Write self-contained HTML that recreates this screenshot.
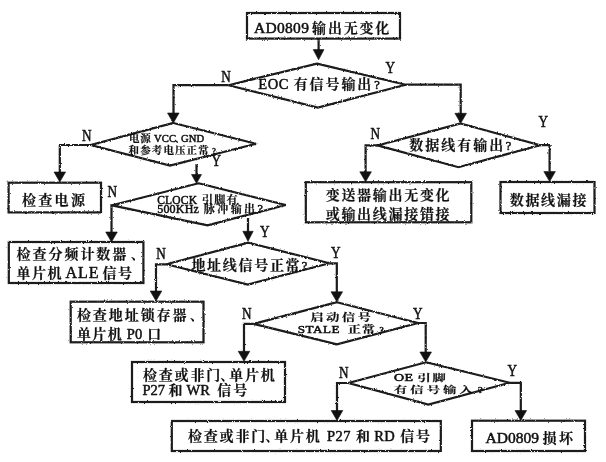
<!DOCTYPE html>
<html lang="zh-CN">
<head>
<meta charset="utf-8">
<title>AD0809 输出无变化 故障检查流程</title>
<style>
html,body{margin:0;padding:0;background:#fff;}
body{width:606px;height:462px;overflow:hidden;}
svg{display:block;}
svg text{font-family:"Liberation Serif","Noto Serif CJK SC",serif;fill:#111;}
.ln *{fill:none;stroke:#1a1a1a;stroke-width:2.2;stroke-linejoin:miter;}
.ar *{fill:#111;stroke:#111;stroke-width:0.6;}
svg text .la{stroke:#111;stroke-width:0.5;}
svg text.lb,svg text .lb{stroke:#111;stroke-width:0.5;}
svg text .cj{stroke:#111;stroke-width:0.2;}
</style>
</head>
<body>
<svg width="606" height="462" viewBox="0 0 606 462">
<rect x="0" y="0" width="606" height="462" fill="#fff"/>
<defs>
<filter id="rough" x="-2%" y="-2%" width="104%" height="104%">
<feTurbulence type="fractalNoise" baseFrequency="0.7" numOctaves="2" seed="7" result="n"/>
<feDisplacementMap in="SourceGraphic" in2="n" scale="2.4" xChannelSelector="R" yChannelSelector="G"/>
</filter>
</defs>
<g class="ln" filter="url(#rough)">
<rect x="247" y="13" width="153" height="25.6"/>
<rect x="8.6" y="182.7" width="92.4" height="29.7"/>
<rect x="8.8" y="242" width="134.6" height="41"/>
<rect x="70.7" y="301.7" width="132.8" height="40.6"/>
<rect x="132" y="362" width="153" height="40"/>
<rect x="171.8" y="421" width="269.0" height="30"/>
<rect x="472" y="420.7" width="113" height="30.3"/>
<rect x="305.8" y="182.2" width="165.5" height="40.1"/>
<rect x="500.5" y="182" width="94.0" height="31"/>
<polygon points="317,63.6 405.7,84.7 317.8,107.5 228.5,85.2"/>
<polygon points="173.3,123 256,143.8 170,165.6 90.8,145"/>
<polygon points="198.5,183.3 285.8,205 207.5,225.3 112,205.3"/>
<polygon points="248.3,242.7 329.5,263.3 247.8,284.5 166.3,264.3"/>
<polygon points="336.9,302.2 418,323 336.9,344.3 253.5,323.9"/>
<polygon points="426,362.3 509.7,382.8 428.3,404.6 348.5,383"/>
<polygon points="460.7,123.5 540,145.2 458.5,167.2 377.5,145.4"/>
<polyline points="318.6,38.6 318.6,56"/>
<polyline points="228.5,85.2 173.5,85.2 173.5,121"/>
<polyline points="90.8,145 59.8,145 59.8,179"/>
<polyline points="196.5,164 196.5,180"/>
<polyline points="112,205.3 111.5,205.3 111.5,238"/>
<polyline points="248,218 248,238"/>
<polyline points="166.3,264.3 156,264.3 156,298"/>
<polyline points="329.5,263.3 336.8,263.3 336.8,298"/>
<polyline points="253.5,323.9 244,323.9 244,358"/>
<polyline points="418,323 425.7,323 425.7,358"/>
<polyline points="348.5,383 337,383 337,417"/>
<polyline points="509.7,382.8 520.8,382.8 520.8,417"/>
<polyline points="405.7,84.7 460.7,84.7 460.7,121"/>
<polyline points="377.5,145.4 365.6,145.4 365.6,178"/>
<polyline points="540,145.2 549.6,145.2 549.6,178"/>
</g>
<g class="ar">
<polygon points="313.20000000000005,49.599999999999994 324.0,49.599999999999994 318.6,59.8"/>
<polygon points="167.5,113 179.10000000000002,113 173.3,123"/>
<polygon points="54.0,172 65.6,172 59.8,182"/>
<polygon points="191.5,174.5 201.5,174.5 196.5,183.5"/>
<polygon points="105.7,232 117.3,232 111.5,242"/>
<polygon points="242.8,231.3 253.2,231.3 248,241.3"/>
<polygon points="150.2,291 161.8,291 156,301"/>
<polygon points="331.0,291.8 342.6,291.8 336.8,301.8"/>
<polygon points="238.2,351.3 249.8,351.3 244,361.3"/>
<polygon points="419.9,352 431.5,352 425.7,362"/>
<polygon points="331.2,410.5 342.8,410.5 337,420.5"/>
<polygon points="515.0,410.5 526.5999999999999,410.5 520.8,420.5"/>
<polygon points="454.9,113.3 466.5,113.3 460.7,123.3"/>
<polygon points="359.8,171.8 371.40000000000003,171.8 365.6,181.8"/>
<polygon points="543.8000000000001,171.6 555.4,171.6 549.6,181.6"/>
</g>
<g class="tx" opacity="0.999">
<text transform="translate(221.2,82.4) scale(0.8,1)" font-size="16.5" class="lb">N</text>
<text transform="translate(385.5,72.7) scale(0.8,1)" font-size="16.5" class="lb">Y</text>
<text transform="translate(82,141) scale(0.8,1)" font-size="16.5" class="lb">N</text>
<text transform="translate(211.5,166) scale(0.8,1)" font-size="16.5" class="lb">Y</text>
<text transform="translate(107.5,197) scale(0.8,1)" font-size="16.5" class="lb">N</text>
<text transform="translate(260,236.7) scale(0.8,1)" font-size="16.5" class="lb">Y</text>
<text transform="translate(156.3,259.4) scale(0.8,1)" font-size="16.5" class="lb">N</text>
<text transform="translate(331,257.5) scale(0.8,1)" font-size="16.5" class="lb">Y</text>
<text transform="translate(242,318.9) scale(0.8,1)" font-size="16.5" class="lb">N</text>
<text transform="translate(413,318.5) scale(0.8,1)" font-size="16.5" class="lb">Y</text>
<text transform="translate(339,377.5) scale(0.8,1)" font-size="16.5" class="lb">N</text>
<text transform="translate(507.5,376) scale(0.8,1)" font-size="16.5" class="lb">Y</text>
<text transform="translate(370.5,138.5) scale(0.8,1)" font-size="16.5" class="lb">N</text>
<text transform="translate(538.5,127) scale(0.8,1)" font-size="16.5" class="lb">Y</text>
<text x="254" y="33"><tspan font-size="15.5" letter-spacing="0.3" font-weight="400" class="la">AD0809</tspan><tspan dx="2.9" font-size="14" letter-spacing="1.8" font-weight="700" class="cj">输出无变化</tspan></text>
<text x="22" y="204.9"><tspan font-size="14" letter-spacing="2.3" font-weight="700" class="cj">检查电源</tspan></text>
<text x="16.6" y="258.9"><tspan font-size="14" letter-spacing="1.95" font-weight="700" class="cj">检查分频计数器</tspan><tspan dx="2.5" font-size="14" letter-spacing="-5.05" font-weight="700">、</tspan></text>
<text x="16.6" y="278.3"><tspan font-size="14" letter-spacing="1.5" font-weight="700" class="cj">单片机</tspan><tspan dx="2.5" font-size="16" letter-spacing="0.9" font-weight="400" class="la">ALE</tspan><tspan dx="3.1" font-size="14" letter-spacing="1.5" font-weight="700" class="cj">信号</tspan></text>
<text x="76.9" y="320"><tspan font-size="14" letter-spacing="1.95" font-weight="700" class="cj">检查地址锁存器</tspan><tspan dx="1.3" font-size="14" letter-spacing="-5.05" font-weight="700">、</tspan></text>
<text x="76.9" y="338.9"><tspan font-size="14" letter-spacing="1.4" font-weight="700" class="cj">单片机</tspan><tspan dx="3.6" font-size="14.5" letter-spacing="0.2" font-weight="400" class="la">P0</tspan><tspan dx="4.8" font-size="14" letter-spacing="1.4" font-weight="700" class="cj">口</tspan></text>
<text x="143" y="379.6"><tspan font-size="14" letter-spacing="1.8" font-weight="700" class="cj">检查或非门</tspan><tspan dx="-1.68" font-size="14" letter-spacing="-5.2" font-weight="700">、</tspan><tspan font-size="14" letter-spacing="1.8" font-weight="700" class="cj">单片机</tspan></text>
<text x="142.4" y="395.4"><tspan font-size="14.5" letter-spacing="0" font-weight="400" class="la">P27</tspan><tspan dx="3.5" font-size="14" letter-spacing="2.0" font-weight="700" class="cj">和</tspan><tspan dx="2.0" font-size="14.5" letter-spacing="0" font-weight="400" class="la">WR</tspan><tspan dx="7.5" font-size="14" letter-spacing="2.0" font-weight="700" class="cj">信号</tspan></text>
<text x="188" y="441.4"><tspan font-size="14" letter-spacing="1.8" font-weight="700" class="cj">检查或非门</tspan><tspan dx="-1.68" font-size="14" letter-spacing="-5.2" font-weight="700">、</tspan><tspan font-size="14" letter-spacing="1.8" font-weight="700" class="cj">单片机</tspan><tspan dx="5.5" font-size="14.5" letter-spacing="0.4" font-weight="400" class="la">P27</tspan><tspan dx="5.2" font-size="14" letter-spacing="1.8" font-weight="700" class="cj">和</tspan><tspan dx="2.4" font-size="14.5" letter-spacing="0.4" font-weight="400" class="la">RD</tspan><tspan dx="5.1" font-size="14" letter-spacing="1.8" font-weight="700" class="cj">信号</tspan></text>
<text x="485.4" y="443"><tspan font-size="15.5" letter-spacing="0.05" font-weight="400" class="la">AD0809</tspan><tspan dx="3.35" font-size="14" letter-spacing="2.6" font-weight="700" class="cj">损坏</tspan></text>
<text x="325.7" y="200.4"><tspan font-size="14" letter-spacing="1.7" font-weight="700" class="cj">变送器输出无变化</tspan></text>
<text x="325.7" y="218.7"><tspan font-size="14" letter-spacing="1.7" font-weight="700" class="cj">或输出线漏接错接</tspan></text>
<text x="509.7" y="204.7"><tspan font-size="14" letter-spacing="1.7" font-weight="700" class="cj">数据线漏接</tspan></text>
<text x="258.3" y="88.9"><tspan font-size="14.5" letter-spacing="0.5" font-weight="400" class="la">EOC</tspan><tspan dx="4.9" font-size="14" letter-spacing="1.9" font-weight="700" class="cj">有信号输出</tspan><tspan dx="1" font-size="12.5" font-weight="400" class="la">?</tspan></text>
<text x="409.2" y="150.4"><tspan font-size="14" letter-spacing="2.0" font-weight="700" class="cj">数据线有输出</tspan><tspan dx="0.5" font-size="12.5" font-weight="400" class="la">?</tspan></text>
<text x="191.4" y="270.4"><tspan font-size="14" letter-spacing="1.7" font-weight="700" class="cj">地址线信号正常</tspan><tspan dx="0.5" font-size="12.5" font-weight="400" class="la">?</tspan></text>
<text x="129" y="141.5"><tspan font-size="10.5" letter-spacing="0.8" font-weight="700" class="cj">电源</tspan><tspan dx="2.4" font-size="10.6" letter-spacing="0.1" font-weight="400" class="lb">VCC</tspan><tspan dx="-1.26" font-size="10.5" letter-spacing="-4.45" font-weight="700">、</tspan><tspan font-size="10.6" letter-spacing="0.1" font-weight="400" class="lb">GND</tspan></text>
<text x="128.6" y="154.4"><tspan font-size="10.5" letter-spacing="1.1" font-weight="700" class="cj">和参考电压正常</tspan><tspan dx="2.5" font-size="8" font-weight="400" class="lb">?</tspan></text>
<text x="157.2" y="203.6"><tspan font-size="11.5" letter-spacing="0.2" font-weight="400" class="lb">CLOCK</tspan><tspan dx="4.8" font-size="11" letter-spacing="1.2" font-weight="700" class="cj">引脚有</tspan></text>
<text x="157.2" y="213.2"><tspan font-size="12" letter-spacing="0.2" font-weight="400" class="lb">500KHz</tspan><tspan dx="4.8" font-size="11" letter-spacing="2.4" font-weight="700" class="cj">脉冲输出</tspan><tspan dx="0" font-size="12" font-weight="400" class="lb">?</tspan></text>
<text transform="translate(310.5,321) scale(1.25,1)"><tspan font-size="10.5" letter-spacing="2.1" font-weight="700" class="cj">启动信号</tspan></text>
<text transform="translate(297.8,333.2) scale(1.25,1)"><tspan font-size="10.5" letter-spacing="0.4" font-weight="400" class="lb">STALE</tspan><tspan dx="6.1" font-size="10.5" letter-spacing="1.0" font-weight="700" class="cj">正常</tspan><tspan dx="2.5" font-size="7.5" font-weight="400" class="lb">?</tspan></text>
<text transform="translate(394,380.8) scale(1.4,1)"><tspan font-size="10" letter-spacing="0.2" font-weight="400" class="lb">OE</tspan><tspan dx="3.0" font-size="9.5" letter-spacing="1.2" font-weight="700" class="cj">引脚</tspan></text>
<text transform="translate(394,393.2) scale(1.4,1)"><tspan font-size="9.5" letter-spacing="2.2" font-weight="700" class="cj">有信号输入</tspan><tspan dx="1.5" font-size="7.5" font-weight="400" class="lb">?</tspan></text>
</g>
</svg>
</body>
</html>
